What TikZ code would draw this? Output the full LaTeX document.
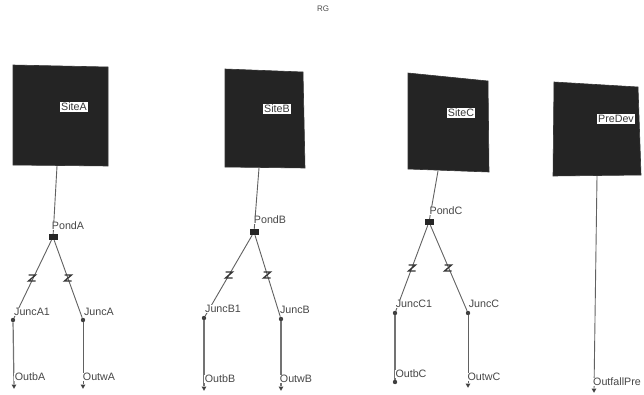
\documentclass[tikz,border=0pt]{standalone}
\usepackage{fontspec}
\usetikzlibrary{shapes.geometric}
\setmainfont{Liberation Sans}
\begin{document}
\begin{tikzpicture}[x=1pt,y=-1pt,
  basin/.style={fill=black!86,draw=black!80,line width=0.6pt},
  edge/.style={draw=black!62,line width=0.9pt},
  heavy/.style={draw=black!55,line width=1.2pt},
  lbl/.style={fill=white,inner xsep=0.4pt,inner ysep=0.4pt,text=black!72,font=\fontsize{10.7}{12}\selectfont},
  sitelbl/.style={fill=white,inner xsep=1pt,inner ysep=1.2pt,text=black!78,font=\fontsize{10.7}{12}\selectfont},
  pond/.style={fill=black!85,minimum width=9pt,minimum height=6pt,inner sep=0pt},
  dot/.style={circle,fill=black!75,minimum size=4.4pt,inner sep=0pt},
  outlet/.style={regular polygon,regular polygon sides=3,shape border rotate=180,fill=black!75,minimum size=5.5pt,inner sep=0pt},
  tickmark/.style={draw=black!80,line width=1.3pt}]
\useasboundingbox (0,0) rectangle (644,394);
\fill[white] (0,0) rectangle (644,394);
\node[lbl,text=black!70,font=\fontsize{8}{10}\selectfont] (title) at (323,9) {RG};
% basins
\fill[basin] (13,65) -- (108,67) -- (108,166) -- (13,165) -- cycle;
\fill[basin] (225,69) -- (303,72) -- (305,168) -- (225,167) -- cycle;
\fill[basin] (408,73) -- (488,81) -- (489,172) -- (408,169) -- cycle;
\fill[basin] (554,82) -- (638,87) -- (641,175) -- (553,176) -- cycle;
\coordinate (SiteAout) at (57,166);
\coordinate (SiteBout) at (259,168);
\coordinate (SiteCout) at (438,171);
\coordinate (PreDevout) at (597,176);
% junction nodes
\node[pond] (PA) at (53,237) {};
\node[pond] (PB) at (254,232) {};
\node[pond] (PC) at (429,222) {};
\node[dot] (JA1) at (13,320) {};
\node[dot] (JA) at (83,320) {};
\node[dot] (JB1) at (204,318) {};
\node[dot] (JB) at (281,319) {};
\node[dot] (JC1) at (395,313) {};
\node[dot] (JC) at (468,313) {};
\node[outlet] (OBA) at (14,386) {};
\node[outlet] (OWA) at (83,386) {};
\node[outlet] (OBB) at (204,388) {};
\node[outlet] (OWB) at (281,388) {};
\node[dot] (OBC) at (395,382) {};
\node[outlet] (OWC) at (468,385) {};
\node[outlet] (OFP) at (594,390) {};
% connectors
\draw[edge] (SiteAout) -- (PA);
\draw[edge] (SiteBout) -- (PB);
\draw[edge] (SiteCout) -- (PC);
\draw[edge] (PreDevout) -- (OFP);
\draw[edge] (PA) -- (JA1);
\draw[edge] (PA) -- (JA);
\draw[edge] (PB) -- (JB1);
\draw[edge] (PB) -- (JB);
\draw[edge] (PC) -- (JC1);
\draw[edge] (PC) -- (JC);
\draw[heavy] (JA1) -- (OBA);
\draw[edge] (JA) -- (OWA);
\draw[heavy] (JB1) -- (OBB);
\draw[heavy] (JB) -- (OWB);
\draw[heavy] (JC1) -- (OBC);
\draw[edge] (JC) -- (OWC);
% tick marks on conduits
\foreach \x/\y in {32/278,68/278,229/275,267/275,412/268,448/268}{
  \draw[tickmark] (\x-3.5,\y-3) -- (\x+3.5,\y-3) -- (\x-3.5,\y+3) -- (\x+3.5,\y+3);
}
% labels
\node[sitelbl] (SiteA) at (74,107) {SiteA};
\node[sitelbl] (SiteB) at (277,109) {SiteB};
\node[sitelbl] (SiteC) at (461,113) {SiteC};
\node[sitelbl] (PreDev) at (616,119) {PreDev};
\node[lbl] (LPA) at (68,226) {PondA};
\node[lbl] (LPB) at (270,220) {PondB};
\node[lbl] (LPC) at (446,211) {PondC};
\node[lbl] (LJA1) at (32,312) {JuncA1};
\node[lbl] (LJA) at (99,312) {JuncA};
\node[lbl] (LJB1) at (223,309) {JuncB1};
\node[lbl] (LJB) at (295,310) {JuncB};
\node[lbl] (LJC1) at (414,304) {JuncC1};
\node[lbl] (LJC) at (484,304) {JuncC};
\node[lbl] (LOBA) at (30,377) {OutbA};
\node[lbl] (LOWA) at (99,377) {OutwA};
\node[lbl] (LOBB) at (220,379) {OutbB};
\node[lbl] (LOWB) at (296,379) {OutwB};
\node[lbl] (LOBC) at (411,374) {OutbC};
\node[lbl] (LOWC) at (484,377) {OutwC};
\node[lbl] (LOFP) at (617,382) {OutfallPre};
\end{tikzpicture}
\end{document}
